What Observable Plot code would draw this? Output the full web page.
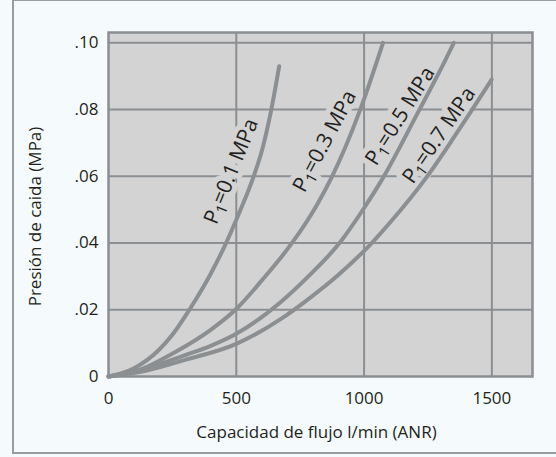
<!DOCTYPE html>
<html><head><meta charset="utf-8">
<script src="https://cdn.jsdelivr.net/npm/d3@7"></script>
<script src="https://cdn.jsdelivr.net/npm/@observablehq/plot@0.6"></script>
<style>
html,body{margin:0;padding:0;background:#f5fbfc;}
#wrap{position:relative;width:556px;height:457px;overflow:hidden;}
#border{position:absolute;left:12px;top:-1px;width:600px;height:455px;border:2px solid #9a9c9e;box-sizing:border-box;}
#chart{position:absolute;left:0;top:0;}
</style></head><body><div id="wrap"><div id="border"></div><div id="chart"></div></div>
<script>
const xTicks = [0, 500, 1000, 1500];
const yTicks = [0, 0.02, 0.04, 0.06, 0.08, 0.10];
const pressures = ["0.1", "0.3", "0.5", "0.7"];
const xLabel = "Capacidad de flujo l/min (ANR)";
const yLabel = "Presión de caida (MPa)";

const flow01 = [0, 100, 195, 250, 319, 400, 460, 514, 568, 602, 637, 668];
const drop01 = [0, 0.0025, 0.0078, 0.0125, 0.0203, 0.0308, 0.04, 0.0495, 0.06, 0.0682, 0.08, 0.093];
const flow03 = [0, 111, 260, 400, 501, 600, 716, 816, 875, 985, 1074];
const drop03 = [0, 0.0017, 0.0073, 0.014, 0.0203, 0.0288, 0.0398, 0.0515, 0.06, 0.08, 0.1];
const flow05 = [0, 150, 300, 400, 500, 672, 782, 907, 1000, 1070, 1210, 1318, 1351];
const drop05 = [0, 0.0025, 0.0064, 0.0092, 0.0128, 0.0222, 0.03, 0.0403, 0.0505, 0.059, 0.079, 0.0948, 0.1];
const flow07 = [0, 150, 300, 500, 672, 782, 900, 1030, 1100, 1247, 1350, 1423, 1499];
const drop07 = [0, 0.0018, 0.005, 0.0098, 0.0171, 0.0232, 0.0305, 0.04, 0.046, 0.06, 0.0715, 0.08, 0.089];

const labelFlow = [480, 846, 1141, 1293];
const labelDrop = [0.0615, 0.0705, 0.0781, 0.0723];
const labelAngle = [-68, -62, -58, -55.5];

const series = [[flow01, drop01], [flow03, drop03], [flow05, drop05], [flow07, drop07]];
const rows = pressures.flatMap((p, i) => series[i][0].map((f, j) => ({p, flow: f, drop: series[i][1][j]})));
const labels = pressures.map((p, i) => ({text: `P₁=${p} MPa`, flow: labelFlow[i], drop: labelDrop[i], angle: labelAngle[i]}));

const gray = "#8b8f92";
const bg = "#d3d3d3";
const labelOpts = {x: "flow", y: "drop", text: "text", rotate: "angle", fontSize: 21};
const chart = Plot.plot({
  width: 556, height: 457,
  marginLeft: 108, marginRight: 24, marginTop: 32, marginBottom: 81,
  style: {background: "transparent", fontFamily: "'Open Sans', sans-serif", fontSize: "17px", color: "#231f20", overflow: "visible"},
  x: {domain: [0, 1659]},
  y: {domain: [0, 0.1031]},
  marks: [
    Plot.frame({fill: bg}),
    Plot.ruleX(xTicks.slice(1), {stroke: gray, strokeWidth: 2}),
    Plot.ruleY(yTicks.slice(1), {stroke: gray, strokeWidth: 2}),
    Plot.text(labels, {...labelOpts, fill: bg, stroke: bg, strokeWidth: 11, strokeLinejoin: "round"}),
    Plot.text(labels, {...labelOpts, fill: "#231f20"}),
    Plot.line(rows, {x: "flow", y: "drop", z: "p", stroke: gray, strokeWidth: 4, curve: "monotone-x"}),
    Plot.frame({stroke: gray, strokeWidth: 2.5}),
    Plot.axisX(xTicks, {tickSize: 0, tickPadding: 15, label: null, fontSize: 17, tickFormat: d => String(d)}),
    Plot.axisY(yTicks, {tickSize: 0, tickPadding: 10, label: null, fontSize: 17,
      tickFormat: d => d === 0 ? "0" : d3.format(".2f")(d).replace(/^0/, "")}),
    Plot.text([xLabel], {frameAnchor: "bottom", dx: -4, dy: 61, text: d => d, fontSize: 17, textAnchor: "middle"}),
    Plot.text([yLabel], {frameAnchor: "left", dx: -73, dy: 12, rotate: -90, text: d => d, fontSize: 17, textAnchor: "middle"})
  ]
});

const ns = "http://www.w3.org/2000/svg";
chart.querySelectorAll("text").forEach(t => {
  const s = t.textContent;
  if (!s.includes("₁")) return;
  const [a, b] = s.split("₁");
  t.textContent = "";
  const t1 = document.createElementNS(ns, "tspan"); t1.textContent = a;
  const t2 = document.createElementNS(ns, "tspan"); t2.textContent = "1";
  t2.setAttribute("font-size", "15"); t2.setAttribute("dy", "4");
  const t3 = document.createElementNS(ns, "tspan"); t3.textContent = b;
  t3.setAttribute("dy", "-4");
  t.append(t1, t2, t3);
});
document.getElementById("chart").append(chart);
</script>
</body></html>
